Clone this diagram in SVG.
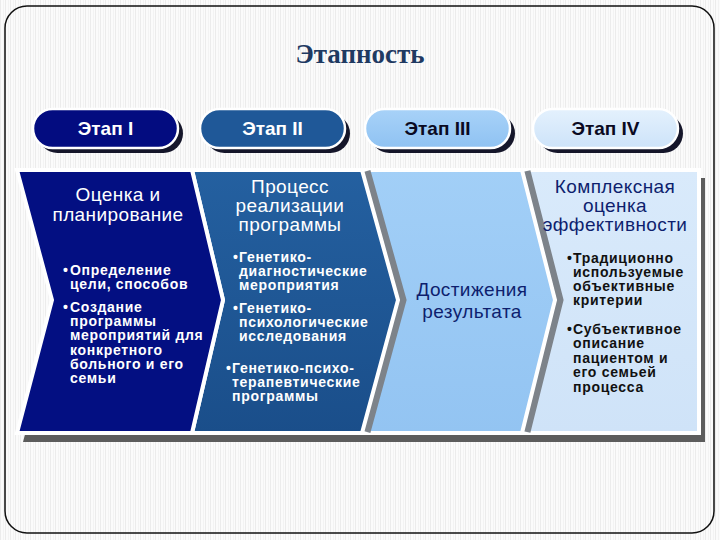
<svg xmlns="http://www.w3.org/2000/svg" width="720" height="540" viewBox="0 0 720 540">
<defs>
<pattern id="stripes" patternUnits="userSpaceOnUse" width="5" height="10">
<rect width="5" height="10" fill="#fbfbfb"/>
<rect x="0" width="1" height="10" fill="#ececec"/>
<rect x="3" width="1" height="10" fill="#f3f3f3"/>
</pattern>
<linearGradient id="g2" x1="0" y1="0" x2="0" y2="1"><stop offset="0" stop-color="#2460a0"/><stop offset="1" stop-color="#1a4e8a"/></linearGradient>
<linearGradient id="g3" x1="0" y1="0" x2="0" y2="1"><stop offset="0" stop-color="#a2cff7"/><stop offset="1" stop-color="#93c4f2"/></linearGradient>
<linearGradient id="g4" x1="0" y1="0" x2="0" y2="1"><stop offset="0" stop-color="#d9eafb"/><stop offset="1" stop-color="#cfe3f8"/></linearGradient>
<linearGradient id="p3" x1="0" y1="0" x2="0" y2="1"><stop offset="0" stop-color="#a8d2f8"/><stop offset="1" stop-color="#8fc2f2"/></linearGradient>
<linearGradient id="p4" x1="0" y1="0" x2="0" y2="1"><stop offset="0" stop-color="#e4f1fd"/><stop offset="1" stop-color="#cde3f9"/></linearGradient>
</defs>
<style>
.pill{stroke:#ffffff;stroke-width:2.5}
.psh{fill:#15162a}
.ptxt{font-family:"Liberation Sans",Arial,sans-serif;font-weight:bold;font-size:19px;text-anchor:middle}
.chev{stroke:#ffffff;stroke-width:4;stroke-linejoin:miter}
.sep{fill:none;stroke:#7d838a;stroke-width:7}
.ttl{font-family:"Liberation Sans",Arial,sans-serif;font-size:19px;letter-spacing:0.4px;text-anchor:middle}
.bul{font-family:"Liberation Sans",Arial,sans-serif;font-weight:bold;font-size:14px;letter-spacing:0.7px}
.w{fill:#ffffff}
.n{fill:#0e1f6e}
.k{fill:#111111}
</style>
<rect width="720" height="540" fill="url(#stripes)"/>
<rect x="5" y="6" width="709" height="527" rx="22" ry="22" fill="none" stroke="#111111" stroke-width="1.5"/>
<text x="360" y="63" font-family="'Liberation Serif','Times New Roman',serif" font-weight="bold" font-size="27" fill="#1f3a62" text-anchor="middle">Этапность</text>

<g id="stage1">
<rect class="psh" x="38" y="114" width="145" height="39" rx="19.5"/>
<rect class="pill" x="33" y="109" width="145" height="39" rx="19.5" fill="#030c80"/>
<text class="ptxt w" x="105.5" y="135">Этап I</text>
</g>
<g id="stage2">
<rect class="psh" x="205" y="114" width="145" height="39" rx="19.5"/>
<rect class="pill" x="200" y="109" width="145" height="39" rx="19.5" fill="#1f5898"/>
<text class="ptxt w" x="272.5" y="135">Этап II</text>
</g>
<g id="stage3">
<rect class="psh" x="370" y="114" width="145" height="39" rx="19.5"/>
<rect class="pill" x="365" y="109" width="145" height="39" rx="19.5" fill="url(#p3)"/>
<text class="ptxt" x="437.5" y="135" fill="#0a0a22">Этап III</text>
</g>
<g id="stage4">
<rect class="psh" x="538" y="114" width="145" height="39" rx="19.5"/>
<rect class="pill" x="533" y="109" width="145" height="39" rx="19.5" fill="url(#p4)"/>
<text class="ptxt" x="605.5" y="135" fill="#0a0a22">Этап IV</text>
</g>

<g id="connectors">
<polygon points="23,178 705,178 705,442 23,442 58,308" fill="#5c5c5c"/>
</g>

<g id="phase4">
<polygon class="chev" points="522,170 699,170 699,433 522,433 555,300" fill="url(#g4)"/>
<polyline class="sep" points="527,171 560,300 527,432"/>
<text class="ttl n"><tspan x="615" y="193">Комплексная</tspan><tspan x="615" y="212">оценка</tspan><tspan x="615" y="231">эффективности</tspan></text>
<text class="bul k"><tspan x="567" y="263">•</tspan><tspan x="573" y="263">Традиционно</tspan><tspan x="573" y="277">используемые</tspan><tspan x="573" y="291">объективные</tspan><tspan x="573" y="305">критерии</tspan><tspan x="567" y="334">•</tspan><tspan x="573" y="334">Субъективное</tspan><tspan x="573" y="348">описание</tspan><tspan x="573" y="363">пациентом и</tspan><tspan x="573" y="377">его семьей</tspan><tspan x="573" y="392">процесса</tspan></text>
</g>

<g id="phase3">
<polygon class="chev" points="362,170 522,170 555,300 522,433 362,433 398,300" fill="url(#g3)"/>
<polyline class="sep" points="367,171 403,300 367,432"/>
<text class="ttl n"><tspan x="472" y="296">Достижения</tspan><tspan x="472" y="318">результата</tspan></text>
</g>

<g id="phase2">
<polygon class="chev" points="192,170 362,170 398,300 362,433 192,433 223,300" fill="url(#g2)"/>
<text class="ttl w"><tspan x="290" y="193">Процесс</tspan><tspan x="290" y="212">реализации</tspan><tspan x="290" y="231">программы</tspan></text>
<text class="bul w"><tspan x="233" y="262">•</tspan><tspan x="239" y="262">Генетико-</tspan><tspan x="239" y="276">диагностические</tspan><tspan x="239" y="290">мероприятия</tspan><tspan x="233" y="313">•</tspan><tspan x="239" y="313">Генетико-</tspan><tspan x="239" y="327">психологические</tspan><tspan x="239" y="341">исследования</tspan><tspan x="226" y="373">•</tspan><tspan x="232" y="373">Генетико-психо-</tspan><tspan x="232" y="387">терапевтические</tspan><tspan x="232" y="401">программы</tspan></text>
</g>

<g id="phase1">
<polygon class="chev" points="17,170 192,170 223,300 192,433 17,433 52,300" fill="#030f82"/>
<text class="ttl w"><tspan x="118" y="201">Оценка и</tspan><tspan x="118" y="221">планирование</tspan></text>
<text class="bul w"><tspan x="63" y="275">•</tspan><tspan x="70" y="275">Определение</tspan><tspan x="70" y="289">цели, способов</tspan><tspan x="63" y="312">•</tspan><tspan x="70" y="312">Создание</tspan><tspan x="70" y="326">программы</tspan><tspan x="70" y="340">мероприятий для</tspan><tspan x="70" y="355">конкретного</tspan><tspan x="70" y="369">больного и его</tspan><tspan x="70" y="383">семьи</tspan></text>
</g>
</svg>
